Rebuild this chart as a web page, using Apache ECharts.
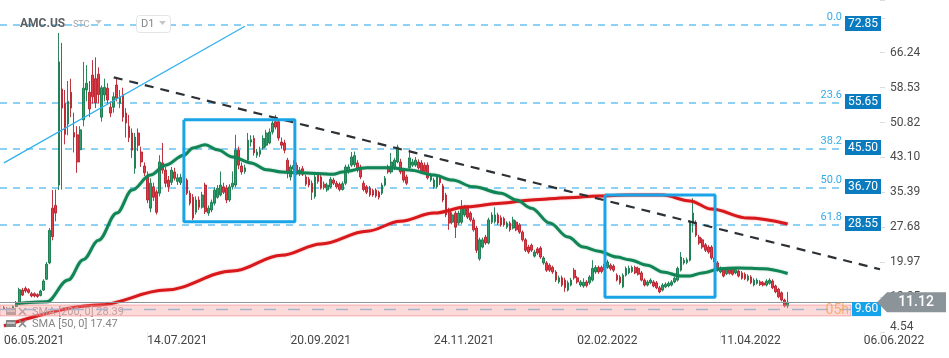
<!DOCTYPE html>
<html><head><meta charset="utf-8">
<script src="https://cdn.jsdelivr.net/npm/echarts@6/dist/echarts.min.js"></script>
<style>html,body{margin:0;padding:0;background:#fff}#c{width:949px;height:358px}</style>
</head><body><div id="c"></div>
<script>
// ---- axis texts ----
const X_TICK_LABELS = ['06.05.2021','14.07.2021','20.09.2021','24.11.2021','02.02.2022','11.04.2022','06.06.2022'];
const X_TICK_STEP = 47;          // bars between date labels
const X_MAX = 287.3;             // bar-index at right edge of the plot
const Y_TICK_LABELS = ['4.54','12.25','19.97','27.68','35.39','43.10','50.82','58.53','66.24'];
const Y_MIN = 4.54, Y_MAX = 77.88, Y_STEP = 7.7125;

// ---- daily candles (index 0 = 06.05.2021) ----
const OPEN = [9.9,9.6,9.8,9.3,10.2,11.0,13.8,14.2,13.9,13.0,13.0,12.8,12.6,13.8,16.2,19.8,31.9,32.5,37.0,58.2,
55.0,50.5,57.5,48.6,48.1,44.8,51.4,58.0,57.5,61.3,60.5,61.5,52.0,56.9,58.4,54.2,54.2,59.1,55.0,57.0,
52.9,50.0,48.5,40.7,48.5,44.3,41.2,38.8,31.9,36.6,35.5,35.2,41.9,40.3,38.1,37.6,39.9,37.8,37.5,38.5,
38.1,35.2,34.3,31.0,33.7,32.1,37.0,30.8,31.5,33.0,34.3,34.8,36.6,36.3,33.7,36.6,37.0,44.7,41.2,40.0,
42.5,46.5,47.3,43.6,43.8,45.2,45.8,46.3,48.7,51.0,51.0,46.5,46.3,42.5,38.8,40.5,41.4,39.5,40.6,38.8,
38.3,37.4,34.5,39.2,38.8,37.2,35.9,36.6,38.1,37.4,37.2,36.0,37.4,40.0,41.4,41.5,41.9,41.0,37.4,36.6,
36.3,35.8,35.9,35.4,35.2,37.0,41.0,39.9,40.8,42.1,42.1,40.3,38.8,40.8,41.4,41.4,42.1,41.9,41.4,41.4,
38.1,36.6,36.6,38.8,36.8,34.8,31.5,28.8,30.8,28.6,28.8,30.4,31.9,30.8,29.3,27.5,20.7,23.3,25.5,24.2,
28.8,28.9,30.4,29.8,29.6,27.7,28.6,27.5,28.8,28.2,26.6,24.9,23.3,23.7,21.3,22.9,23.1,19.8,19.8,19.3,
18.8,17.8,15.6,16.5,16.0,13.8,14.9,18.2,16.5,14.9,14.7,15.6,15.4,16.0,17.8,18.8,18.8,18.2,18.8,19.3,
19.1,17.1,16.7,14.5,17.1,17.6,17.9,18.8,18.6,17.6,16.0,14.9,15.4,15.6,15.4,14.3,13.8,14.5,14.7,14.9,
15.6,16.0,18.2,19.8,19.9,20.4,28.6,28.6,25.5,24.9,23.8,23.3,23.3,20.9,19.8,17.8,18.2,17.4,18.3,18.5,
17.6,18.0,17.6,17.3,16.0,16.7,14.9,15.3,15.6,15.4,14.9,15.3,15.8,14.7,14.0,13.2,11.6,10.3];
const HIGH = [10.3,10.0,9.9,10.4,11.4,14.3,14.3,14.6,14.2,13.4,13.3,13.1,13.9,16.2,20.0,27.5,35.9,36.0,70.6,68.4,
58.0,60.0,60.5,53.0,50.0,50.0,64.2,63.5,60.0,64.6,65.2,63.0,59.0,60.5,59.5,55.5,57.5,60.5,58.0,58.5,
54.0,52.5,49.5,48.5,49.5,45.5,42.0,40.0,38.5,37.5,36.0,43.6,46.3,41.0,39.0,41.0,40.8,39.5,39.5,39.5,
38.5,35.8,35.0,34.5,34.5,35.5,37.5,32.5,33.8,36.5,37.0,40.0,37.5,37.0,37.2,40.0,48.1,45.5,42.0,41.5,
48.5,48.0,48.0,45.0,45.5,48.0,49.2,49.5,51.2,52.5,51.5,47.5,47.0,43.0,41.5,42.5,42.0,41.0,41.2,39.3,
38.8,38.0,39.3,39.8,39.2,37.8,37.5,38.8,38.6,37.9,37.6,37.8,41.5,41.6,44.3,44.4,42.5,41.5,38.0,37.0,
36.8,36.2,36.3,35.8,37.5,39.0,41.5,44.1,43.0,45.9,42.8,40.8,39.3,44.7,42.8,43.2,42.7,42.5,42.0,42.0,
39.7,38.6,39.3,39.3,37.3,35.3,32.0,31.0,31.3,31.3,33.7,32.6,32.4,31.2,29.8,28.0,25.4,25.4,26.0,29.8,
31.0,32.1,30.9,30.3,30.0,29.0,29.0,30.0,29.2,28.6,27.0,25.3,23.8,24.1,22.7,23.3,23.5,21.3,20.2,19.7,
19.2,18.2,17.0,17.0,16.5,15.9,16.5,18.7,16.9,16.0,16.4,16.0,17.1,20.4,19.3,19.2,19.2,20.0,20.5,19.7,
19.5,17.5,17.1,17.5,19.0,19.2,19.2,19.2,19.0,18.0,16.4,16.0,16.4,16.0,15.8,14.7,15.3,15.5,15.7,16.0,
16.8,19.0,22.2,20.9,21.0,29.2,34.1,29.2,26.0,25.3,24.2,23.7,23.7,21.3,20.2,19.0,18.6,18.7,18.7,18.9,
18.7,18.4,18.0,17.7,17.3,17.1,16.4,16.4,16.0,15.8,16.2,16.4,16.2,15.0,14.3,13.5,11.9,13.4];
const LOW = [9.4,9.2,9.1,9.2,10.0,10.9,12.5,13.2,13.0,12.2,12.2,12.1,12.4,13.6,16.0,19.5,24.8,29.0,35.9,36.0,
46.0,48.0,52.0,44.2,39.7,42.0,50.0,55.5,52.0,55.0,54.0,55.0,51.0,55.5,55.0,52.0,53.0,55.5,54.0,51.0,
47.5,46.5,43.0,39.5,44.5,41.0,39.0,33.0,31.0,33.5,30.5,34.5,39.5,36.5,35.5,37.0,38.0,37.0,37.0,37.5,
34.8,32.5,29.2,30.5,31.5,31.8,30.6,30.2,31.0,32.5,34.0,34.5,35.0,33.0,33.3,36.0,36.5,40.5,39.3,39.5,
42.0,45.5,43.5,43.0,43.2,44.8,45.3,46.0,48.2,49.3,46.8,45.0,44.0,38.5,38.0,40.0,39.2,39.0,39.0,36.8,
36.5,33.7,34.0,37.3,36.0,36.0,35.5,36.3,37.0,36.2,35.6,35.8,37.0,39.5,41.0,41.0,39.8,38.3,35.6,35.0,
34.4,34.4,34.2,33.8,34.8,36.7,39.5,39.5,40.3,41.8,39.4,37.6,37.0,40.3,41.0,41.0,40.4,39.5,39.6,38.2,
37.7,36.2,36.2,37.0,33.2,29.9,27.1,28.3,25.3,28.2,28.4,30.0,29.5,28.9,26.7,22.0,20.3,23.0,23.8,23.9,
28.4,28.5,28.2,27.8,27.8,27.3,26.7,27.2,26.8,26.2,24.5,22.2,21.8,22.2,21.0,21.6,20.7,19.4,17.8,17.8,
17.4,15.6,15.2,14.5,13.4,13.5,14.6,16.1,15.2,14.5,14.3,14.4,15.0,15.7,17.4,17.4,17.5,17.9,18.5,18.1,
17.8,15.7,15.0,14.2,16.8,17.3,17.6,17.3,17.0,15.7,14.6,14.6,15.1,14.4,14.0,13.1,13.5,14.2,14.4,14.6,
15.3,15.7,17.9,19.4,19.5,20.1,26.5,25.5,23.8,22.9,22.2,21.8,20.5,19.6,17.9,17.5,16.6,17.1,17.2,17.0,
17.3,16.6,16.1,16.0,15.7,15.1,14.6,15.0,14.7,14.6,14.6,15.0,14.0,13.1,12.0,11.3,10.0,9.8];
const CLOSE = [9.6,9.8,9.3,10.2,11.0,13.9,12.7,13.6,13.3,12.5,12.5,12.4,13.6,15.8,19.5,27.0,25.6,30.8,64.2,54.0,
48.2,55.5,54.0,47.6,42.1,49.2,58.4,59.5,53.8,56.5,55.2,57.0,58.5,58.6,55.8,52.9,56.5,56.2,56.5,52.0,
50.7,47.5,44.7,47.6,45.8,42.1,39.7,33.7,37.4,34.3,31.0,42.1,40.3,37.4,36.6,40.3,38.5,38.6,38.7,38.1,
35.2,33.0,29.7,33.7,32.1,34.8,31.1,31.9,33.2,35.9,36.3,37.0,35.4,33.7,36.6,37.4,44.7,41.4,39.9,40.8,
46.9,47.0,44.1,44.3,44.7,47.3,48.5,48.7,50.7,49.8,47.4,45.8,44.7,39.9,41.0,41.3,39.7,40.3,39.4,37.2,
37.0,35.4,38.8,37.8,36.3,36.5,37.0,38.3,37.4,36.6,36.0,37.3,41.0,41.0,43.2,43.5,40.3,38.8,36.0,35.4,
34.8,34.8,34.6,34.3,37.0,38.5,39.9,42.1,42.5,45.4,39.9,38.1,37.4,43.0,42.1,42.5,40.8,39.9,40.0,38.6,
39.2,38.1,38.8,37.5,33.7,30.4,28.6,30.4,27.7,30.8,31.9,32.1,29.9,29.3,27.1,22.6,24.9,24.9,24.2,29.3,
30.4,30.4,28.6,28.2,28.2,28.6,27.1,29.3,27.1,26.6,24.9,22.6,22.2,22.6,22.2,22.0,21.1,20.9,18.2,18.2,
17.8,16.0,16.5,14.9,14.3,15.4,16.0,16.5,15.6,15.6,15.5,14.8,16.7,18.6,18.8,17.8,17.9,19.5,20.0,18.5,
18.2,16.0,15.4,17.1,18.6,18.6,18.8,17.6,17.3,16.0,14.9,15.6,16.0,14.7,14.3,13.4,14.9,15.1,15.3,15.6,
16.4,18.6,21.1,20.4,20.5,28.6,30.8,25.9,24.2,23.3,22.6,22.2,20.9,20.0,18.2,18.6,16.9,18.3,17.5,17.3,
18.3,16.9,16.4,16.3,16.9,15.4,16.0,16.0,15.0,14.9,15.8,16.0,14.3,13.4,12.3,11.6,10.3,11.12];

// ---- moving averages at sample bars ----
const SMA50_IDX = [4,14,21,26,31,37,42,48,53,59,62,66,70,75,81,86,91,97,108,111,119,127,133,141,147,154,163,168,173,179,185,190,195,201,205,211,216,222,225,229,235,241,249,257];
const SMA50_VAL = [10.8,11.2,16.0,20.5,24.8,30.8,35.9,39.2,41.4,43.6,45.2,45.9,44.8,43.2,41.9,40.4,39.9,39.7,39.4,39.9,40.8,40.8,40.3,39.2,38.1,36.6,35.2,33.7,31.9,28.6,25.5,23.3,22.4,21.1,20.5,19.3,17.8,16.9,16.9,17.6,18.5,18.7,18.5,17.47];
const SMA200_IDX = [0,31,53,75,91,104,119,130,141,152,163,173,185,195,205,216,225,232,244,257];
const SMA200_VAL = [5.9,10.5,13.8,18.0,21.5,24.0,26.8,29.0,30.8,32.2,33.0,33.7,34.2,34.6,34.8,34.8,33.5,31.7,29.7,28.39];

// ---- drawings ----
const FIB_LEVELS = [72.85,55.65,45.50,36.70,28.55];
const FIB_NAMES = ['0.0','23.6','38.2','50.0','61.8'];
const FIB_PRICE_TEXT = ['72.85','55.65','45.50','36.70','28.55'];
const LAST_PRICE = 11.12, LAST_PRICE_TEXT = '11.12';
const ALERT_PRICE = 9.60, ALERT_PRICE_TEXT = '9.60';
const ZONE_TOP = 10.5, ZONE_BOTTOM = 8.1;
const TREND_DOWN_X = [36, 287.3], TREND_DOWN_Y = [60.8, 18.4];
const TREND_UP_X = [0, 79], TREND_UP_Y = [41.9, 72.1];
const BOX1_X = [59, 95.4], BOX1_Y = [51.4, 28.9];
const BOX2_X = [197.1, 233.2], BOX2_Y = [34.8, 12.2];

const FONT = 'Roboto, "Noto Sans", sans-serif';
const boxPts = (bx, by) => [[bx[0],by[0]],[bx[1],by[0]],[bx[1],by[1]],[bx[0],by[1]],[bx[0],by[0]]];

const chart = echarts.init(document.getElementById('c'));
const option = {
  animation: false,
  grid: {left: 4, right: 69, top: 0, bottom: 26},
  xAxis: {
    type: 'value', min: 0, max: X_MAX, interval: X_TICK_STEP,
    splitLine: {show: false}, axisLine: {show: false},
    axisTick: {show: true, length: 9, lineStyle: {color: '#ebebeb'}},
    axisLabel: {
      align: 'left', margin: 3, color: '#444', fontSize: 12, fontFamily: FONT,
      formatter: v => (Math.abs(v / X_TICK_STEP - Math.round(v / X_TICK_STEP)) < 1e-6 ? (X_TICK_LABELS[Math.round(v / X_TICK_STEP)] || '') : '')
    }
  },
  yAxis: [
    {type: 'value', min: Y_MIN, max: Y_MAX, show: false, splitLine: {show: false}},
    {
      type: 'value', min: 0, max: (Y_MAX - Y_MIN) / Y_STEP, interval: 1, position: 'right',
      splitLine: {show: false}, axisLine: {show: false},
      axisTick: {show: true, length: 5, lineStyle: {color: '#dcdcdc'}},
      axisLabel: {
        margin: 10, color: '#4a4a4a', fontSize: 12, fontFamily: FONT,
        formatter: v => {
          const k = Math.round(v);
          if (Math.abs(v - k) > 1e-6 || !Y_TICK_LABELS[k]) return '';
          return k === 0 ? '{low|' + Y_TICK_LABELS[k] + '}' : Y_TICK_LABELS[k];
        },
        rich: {low: {padding: [0, 0, 10, 0], color: '#4a4a4a', fontSize: 12, fontFamily: FONT}}
      }
    }
  ],
  series: [
    {
      type: 'candlestick', z: 3,
      data: CLOSE.map((c, i) => [i, OPEN[i], c, LOW[i], HIGH[i]]),
      encode: {x: 0, y: [1, 2, 3, 4]},
      barWidth: 2.2,
      itemStyle: {color: '#2f9e6c', color0: '#e23a46', borderColor: '#15784b', borderColor0: '#b81f2b', borderWidth: 0.9}
    },
    {
      type: 'line', z: 5, symbol: 'none', smooth: 0.35, smoothMonotone: 'x',
      data: SMA200_IDX.map((x, k) => [x, SMA200_VAL[k]]),
      lineStyle: {color: '#d9181c', width: 3, shadowBlur: 2, shadowColor: 'rgba(217,24,28,0.45)'}
    },
    {
      type: 'line', z: 5, symbol: 'none', smooth: 0.35, smoothMonotone: 'x',
      data: SMA50_IDX.map((x, k) => [x, SMA50_VAL[k]]),
      lineStyle: {color: '#118556', width: 3, shadowBlur: 2, shadowColor: 'rgba(17,133,86,0.45)'}
    },
    {
      type: 'line', z: 6, symbol: 'none', clip: false,
      data: TREND_DOWN_X.map((x, k) => [x, TREND_DOWN_Y[k]]),
      lineStyle: {color: '#2c3136', width: 2.2, type: [9, 7]}
    },
    {
      type: 'line', z: 6, symbol: 'none', clip: false,
      data: TREND_UP_X.map((x, k) => [x, TREND_UP_Y[k]]),
      lineStyle: {color: '#2fb0ee', width: 1.2}
    },
    {
      type: 'line', z: 7, symbol: 'none', data: boxPts(BOX1_X, BOX1_Y),
      lineStyle: {color: '#18a4e6', width: 3}
    },
    {
      type: 'line', z: 7, symbol: 'none', data: boxPts(BOX2_X, BOX2_Y),
      lineStyle: {color: '#18a4e6', width: 3}
    }
  ]
};
chart.setOption(option);

const py = v => chart.convertToPixel({yAxisIndex: 0}, v);
const g = [];
// zone + price lines
const zt = py(ZONE_TOP), zb = py(ZONE_BOTTOM);
g.push({type: 'rect', z: 8, silent: true, shape: {x: 0, y: zt, width: 851, height: zb - zt},
  style: {fill: 'rgba(248,150,150,0.35)', stroke: 'rgba(238,120,120,0.55)', lineWidth: 1}});
const yA = Math.round(py(ALERT_PRICE)) + 0.5;
g.push({type: 'line', z: 9, silent: true, shape: {x1: 0, y1: yA, x2: 851, y2: yA},
  style: {stroke: '#a7b3c9', lineWidth: 1.5, lineDash: [12, 12]}});
const yL = Math.round(py(LAST_PRICE)) + 0.5;
g.push({type: 'line', z: 9, silent: true, shape: {x1: 0, y1: yL, x2: 880, y2: yL},
  style: {stroke: '#8d969b', lineWidth: 1}});
// fibonacci
FIB_LEVELS.forEach((lv, k) => {
  const y = Math.round(py(lv)) + 0.5;
  g.push({type: 'line', z: 1, silent: true, shape: {x1: 0, y1: y + 1.5, x2: 843, y2: y + 1.5},
    style: {stroke: '#1aa3ea', lineWidth: 1, lineDash: [7, 6]}});
  g.push({type: 'text', z: 20, silent: true, x: 842, y: y - 1,
    style: {text: FIB_NAMES[k], fill: '#35abe8', font: '11px ' + FONT, align: 'right', verticalAlign: 'bottom'}});
  g.push({type: 'rect', z: 30, silent: true, shape: {x: 845, y: y - 7.5, width: 36, height: 15}, style: {fill: '#0b7bc0'}});
  g.push({type: 'text', z: 31, silent: true, x: 863, y: y,
    style: {text: FIB_PRICE_TEXT[k], fill: '#fff', font: '12px ' + FONT, align: 'center', verticalAlign: 'middle'}});
});
// alert price box
const yAc = py(ALERT_PRICE);
g.push({type: 'text', z: 32, silent: true, x: 849, y: yAc + 1,
  style: {text: '05h', fill: 'rgba(246,158,78,0.75)', font: '14px ' + FONT, align: 'right', verticalAlign: 'middle'}});
g.push({type: 'rect', z: 33, silent: true, shape: {x: 852, y: yAc - 7, width: 29, height: 14}, style: {fill: '#14a2ea'}});
g.push({type: 'text', z: 34, silent: true, x: 866.5, y: yAc,
  style: {text: ALERT_PRICE_TEXT, fill: '#fff', font: '12px ' + FONT, align: 'center', verticalAlign: 'middle'}});
// last price arrow box
const yLc = py(LAST_PRICE);
g.push({type: 'polygon', z: 40, silent: true,
  shape: {points: [[877, yLc], [887, yLc - 10], [946, yLc - 10], [946, yLc + 10], [887, yLc + 10]]},
  style: {fill: '#8b9499'}});
g.push({type: 'text', z: 41, silent: true, x: 916, y: yLc,
  style: {text: LAST_PRICE_TEXT, fill: '#fff', font: '500 14px ' + FONT, align: 'center', verticalAlign: 'middle'}});
// indicator legend
const legendRows = [['SMA [200, 0] 28.39', 312, '#a3a3a3'], ['SMA [50, 0] 17.47', 324, '#858585']];
legendRows.forEach(([t, y, c]) => {
  g.push({type: 'rect', z: 7, silent: true, shape: {x: 6, y: y - 4, width: 10, height: 7}, style: {fill: c}});
  g.push({type: 'line', z: 7, silent: true, shape: {x1: 7, y1: y - 1, x2: 15, y2: y - 1}, style: {stroke: '#fff', lineWidth: 1}});
  g.push({type: 'line', z: 7, silent: true, shape: {x1: 19, y1: y - 4, x2: 26, y2: y + 3}, style: {stroke: c, lineWidth: 1.6}});
  g.push({type: 'line', z: 7, silent: true, shape: {x1: 26, y1: y - 4, x2: 19, y2: y + 3}, style: {stroke: c, lineWidth: 1.6}});
  g.push({type: 'text', z: 7, silent: true, x: 32, y: y,
    style: {text: t, fill: c, font: '11px ' + FONT, verticalAlign: 'middle'}});
});
// header
g.push({type: 'text', z: 50, silent: true, x: 20, y: 24,
  style: {text: 'AMC.US', fill: '#5b6064', font: 'bold 12px ' + FONT, verticalAlign: 'middle'}});
g.push({type: 'text', z: 50, silent: true, x: 73, y: 25,
  style: {text: 'STC', fill: '#a2a7ab', font: '9px ' + FONT, verticalAlign: 'middle'}});
g.push({type: 'polygon', z: 50, silent: true, shape: {points: [[95, 20], [102, 20], [98.5, 24]]}, style: {fill: '#c3c7ca'}});
g.push({type: 'rect', z: 50, silent: true, shape: {x: 136.5, y: 15.5, width: 34, height: 17, r: 3},
  style: {fill: '#fff', stroke: '#e2e4e6', lineWidth: 1}});
g.push({type: 'text', z: 51, silent: true, x: 141, y: 24.5,
  style: {text: 'D1', fill: '#7f868a', font: '11px ' + FONT, verticalAlign: 'middle'}});
g.push({type: 'polygon', z: 51, silent: true, shape: {points: [[159, 21], [166, 21], [162.5, 25]]}, style: {fill: '#c3c7ca'}});

chart.setOption({graphic: {elements: g}});
</script>
</body></html>
